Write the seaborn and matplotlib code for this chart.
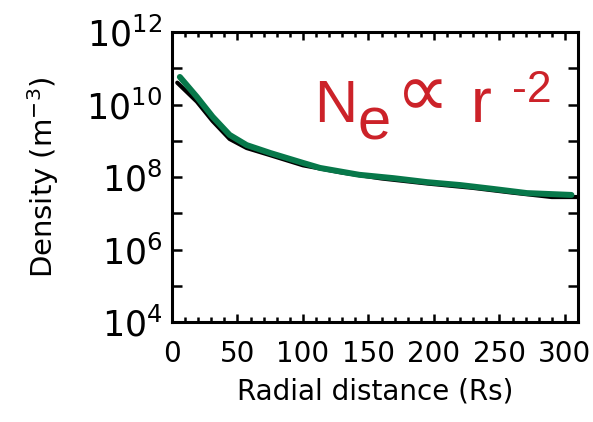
import matplotlib
matplotlib.use('Agg')
import matplotlib.pyplot as plt
import seaborn as sns
from matplotlib.ticker import FixedLocator, FixedFormatter, MultipleLocator

# ---- data ----
r_obs = [4, 19, 31, 44, 57, 75, 100, 130, 160, 195, 230, 260, 290, 310]
ne_obs = [4.0e10, 1.2e10, 3.5e9, 1.12e9, 6.3e8, 4.0e8, 2.1e8, 1.32e8, 9.1e7,
          6.6e7, 5.0e7, 3.7e7, 2.8e7, 2.8e7]
r_model = [6, 19, 31, 44, 57, 75, 100, 113, 143, 169, 195, 220, 245, 271, 305]
ne_model = [5.75e10, 1.62e10, 4.6e9, 1.45e9, 7.6e8, 4.6e8, 2.45e8, 1.78e8,
            1.15e8, 9.3e7, 7.2e7, 6.0e7, 4.7e7, 3.6e7, 3.2e7]
y_decades = [4, 5, 6, 7, 8, 9, 10, 11, 12]
y_label_decades = [4, 6, 8, 10, 12]
x_ticks = [0, 50, 100, 150, 200, 250, 300]

sns.set_theme(style='ticks')
plt.rcParams['font.family'] = ['DejaVu Sans']
plt.rcParams['mathtext.fontset'] = 'dejavusans'
plt.rcParams['text.color'] = 'black'
plt.rcParams['axes.labelcolor'] = 'black'
plt.rcParams['xtick.color'] = 'black'
plt.rcParams['ytick.color'] = 'black'

W, H = 593, 422
fig = plt.figure(figsize=(W / 100, H / 100), dpi=100)
ax = fig.add_axes([172 / W, 100 / H, 406 / W, 290 / H])

sns.lineplot(x=r_obs, y=ne_obs, color='black', lw=3, sort=False, ax=ax)
sns.lineplot(x=r_model, y=ne_model, color='#07784a', lw=4.3, sort=False, ax=ax)

ax.set_yscale('log')
ax.set_xlim(0, 310)
ax.set_ylim(1e4, 1e12)

yt = [10.0 ** e for e in y_decades]
ax.yaxis.set_major_locator(FixedLocator(yt))
ax.yaxis.set_major_formatter(FixedFormatter(
    [f'$10^{{{e}}}$' if e in y_label_decades else '' for e in y_decades]))
ax.yaxis.set_minor_locator(FixedLocator([]))
ax.xaxis.set_major_locator(FixedLocator(x_ticks))
ax.xaxis.set_minor_locator(MultipleLocator(10))

for s in ax.spines.values():
    s.set_linewidth(2.2)
    s.set_color('black')
    s.set_visible(True)

ax.tick_params(axis='both', which='both', direction='in', top=True, right=True,
               color='black', labelcolor='black', width=1.8)
ax.tick_params(axis='x', which='major', length=6, labelsize=20, pad=13)
ax.tick_params(axis='x', which='minor', length=3.5)
ax.tick_params(axis='y', which='major', length=7, labelsize=25, pad=7)

ax.set_xlabel('Radial distance (Rs)', fontsize=20, labelpad=7)
ax.set_ylabel('Density (m$^{-3}$)', fontsize=21, labelpad=18)

red = '#cc2229'
fam = ['Liberation Sans', 'DejaVu Sans']
def ft(px, py, s, size, family=fam):
    fig.text(px / W, 1 - py / H, s, fontsize=size, color=red, family=family,
             ha='left', va='baseline')

ft(314, 122, 'N', 43)
ft(358, 140, 'e', 43)
ft(396, 116, '\u221d', 54, ['DejaVu Sans'])
ft(471, 122, 'r', 45)
ft(512, 102, '-2', 32)

fig.savefig('out.png', dpi=100)
